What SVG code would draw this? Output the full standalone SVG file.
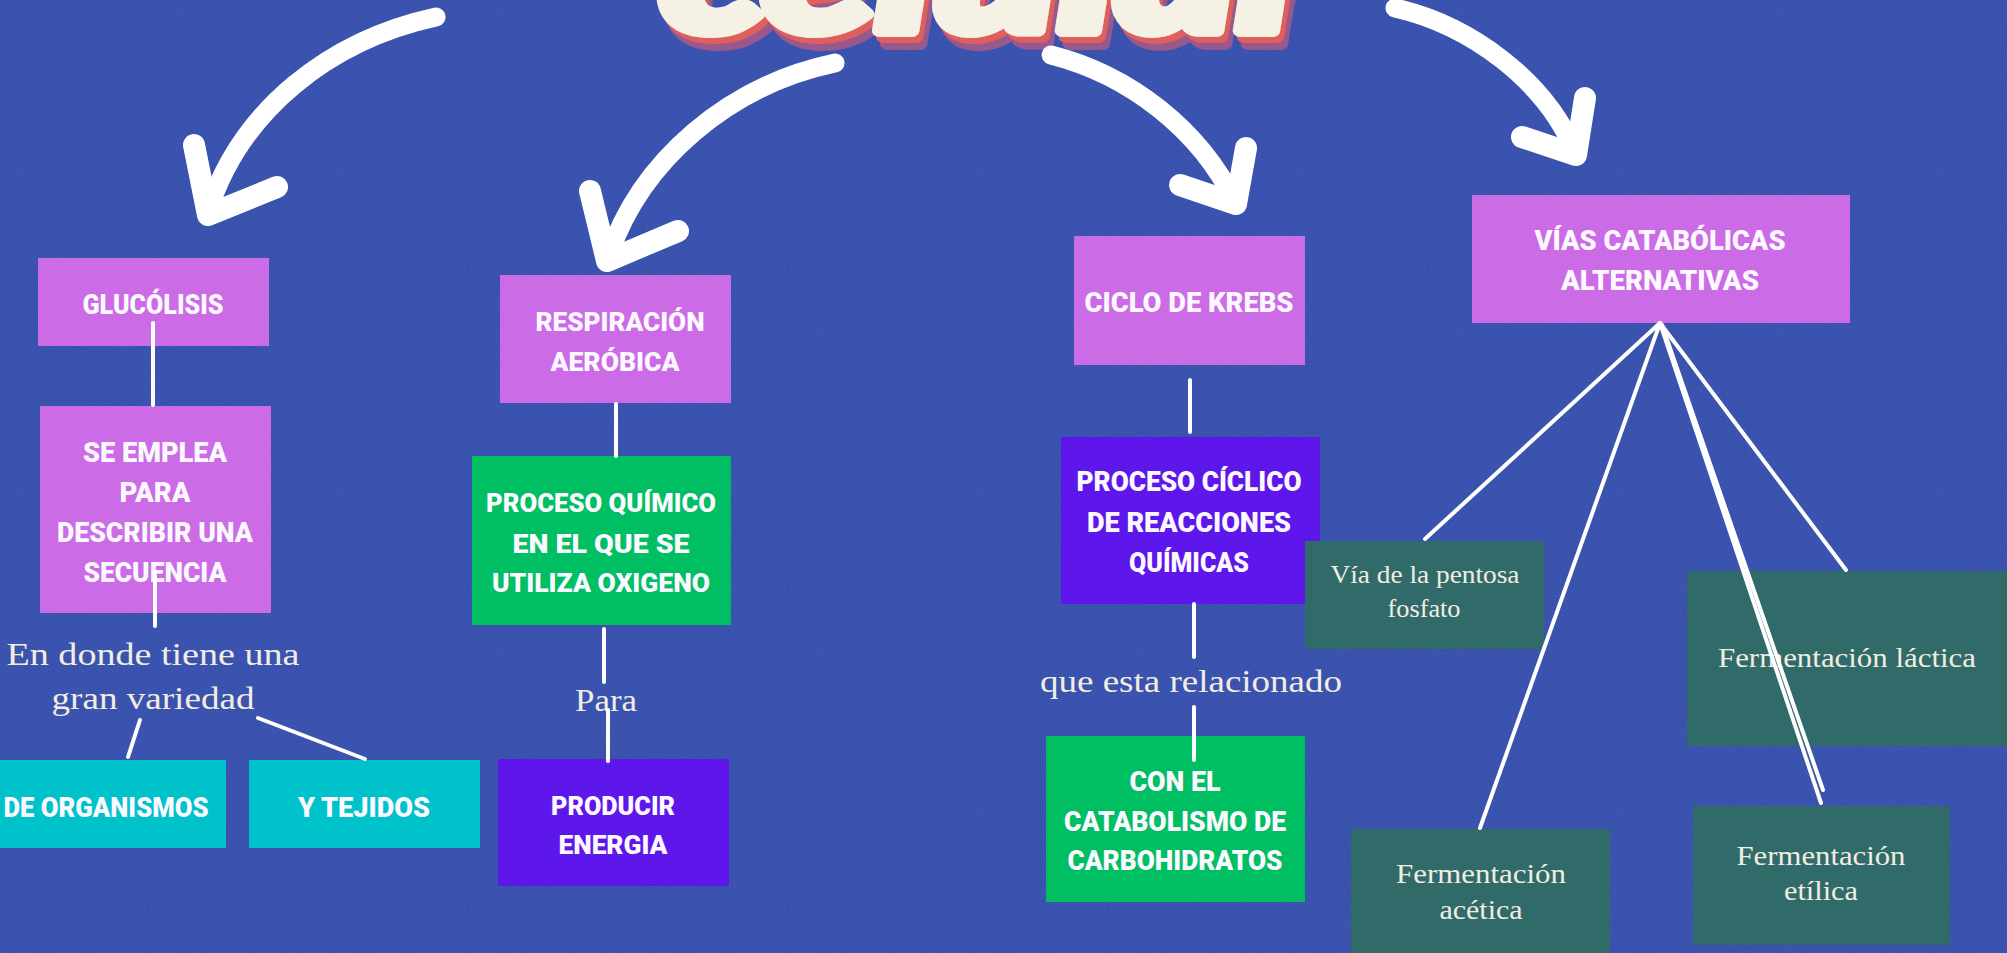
<svg xmlns="http://www.w3.org/2000/svg" width="2007" height="953" viewBox="0 0 2007 953">
<defs>
<style>
.bg{fill:#3750ad}
.pink{fill:#cb6ce6}
.green{fill:#00bf63}
.violet{fill:#5e17eb}
.cyan{fill:#00c2cb}
.teal{fill:#316b69}
.disp{font-family:Roboto,"Liberation Sans",sans-serif;font-weight:900;fill:#fbf8ff;text-anchor:middle}
.serif{font-family:"Liberation Serif","DejaVu Serif",serif;fill:#f1ede2;text-anchor:middle}
.line{stroke:#ffffff;stroke-width:4;stroke-linecap:round;fill:none}
.arrow{stroke:#ffffff;stroke-width:19;stroke-linecap:round;stroke-linejoin:round;fill:none}
.head{stroke:#ffffff;stroke-width:22;stroke-linecap:round;stroke-linejoin:round;fill:none}
.title{font-family:Lato,"DejaVu Sans",sans-serif;font-weight:900;font-style:italic;font-size:175px;fill:#f5f1e4;stroke:#f5f1e4;stroke-width:12;stroke-linejoin:round}
</style>
<filter id="grain" x="0" y="0" width="100%" height="100%">
<feTurbulence type="fractalNoise" baseFrequency="0.8" numOctaves="2" seed="4"/>
<feColorMatrix type="matrix" values="0 0 0 0 1  0 0 0 0 1  0 0 0 0 1  0.18 0 0 0 -0.06"/>
</filter>
<filter id="shadow3d" x="-5%" y="-20%" width="110%" height="140%">
<feFlood flood-color="#a2598a" flood-opacity="0.9" result="c2"/>
<feComposite in="c2" in2="SourceAlpha" operator="in" result="s2"/>
<feOffset in="s2" dx="8" dy="13" result="o2"/>
<feFlood flood-color="#df5f5c" result="c1"/>
<feComposite in="c1" in2="SourceAlpha" operator="in" result="s1"/>
<feOffset in="s1" dx="4" dy="6" result="o1"/>
<feMerge><feMergeNode in="o2"/><feMergeNode in="o1"/><feMergeNode in="SourceGraphic"/></feMerge>
</filter>
</defs>
<rect class="bg" x="0" y="0" width="2007" height="953"/>
<rect x="0" y="0" width="2007" height="953" filter="url(#grain)" opacity="0.6"/>

<g id="title" filter="url(#shadow3d)">
<text class="title" x="660" y="31" textLength="660" lengthAdjust="spacingAndGlyphs">celular</text>
</g>

<g id="arrows">
<path class="arrow" d="M436,17 C330,40 240,110 208,212"/>
<path class="head" d="M194,145 L208,215 L277,187"/>
<path class="arrow" d="M835,63 C730,85 640,160 608,258"/>
<path class="head" d="M590,191 L607,261 L678,231"/>
<path class="arrow" d="M1051,55 C1130,75 1200,130 1235,202"/>
<path class="head" d="M1246,148 L1236,204 L1180,185"/>
<path class="arrow" d="M1395,8 C1470,25 1545,80 1575,152"/>
<path class="head" d="M1585,98 L1576,155 L1522,137"/>
</g>

<g id="glucolisis">
<rect class="pink" x="38" y="258" width="231" height="88"/>
<text class="disp" x="153" y="314" font-size="27" textLength="141" lengthAdjust="spacingAndGlyphs">GLUCÓLISIS</text>
</g>
<g id="se-emplea">
<rect class="pink" x="40" y="406" width="231" height="207"/>
<text class="disp" x="155" y="462" font-size="27" textLength="144" lengthAdjust="spacingAndGlyphs">SE EMPLEA</text>
<text class="disp" x="155" y="502" font-size="27" textLength="71" lengthAdjust="spacingAndGlyphs">PARA</text>
<text class="disp" x="155" y="542" font-size="27" textLength="196" lengthAdjust="spacingAndGlyphs">DESCRIBIR UNA</text>
<text class="disp" x="155" y="582" font-size="27" textLength="143" lengthAdjust="spacingAndGlyphs">SECUENCIA</text>
</g>
<g id="en-donde">
<text class="serif" x="153" y="665" font-size="32" textLength="293" lengthAdjust="spacingAndGlyphs">En donde tiene una</text>
<text class="serif" x="153" y="709" font-size="32" textLength="203" lengthAdjust="spacingAndGlyphs">gran variedad</text>
</g>
<g id="de-organismos">
<rect class="cyan" x="-5" y="760" width="231" height="88"/>
<text class="disp" x="106" y="817" font-size="27" textLength="205" lengthAdjust="spacingAndGlyphs">DE ORGANISMOS</text>
</g>
<g id="y-tejidos">
<rect class="cyan" x="249" y="760" width="231" height="88"/>
<text class="disp" x="364" y="817" font-size="27" textLength="132" lengthAdjust="spacingAndGlyphs">Y TEJIDOS</text>
</g>

<g id="respiracion">
<rect class="pink" x="500" y="275" width="231" height="128"/>
<text class="disp" x="620" y="331" font-size="26" textLength="169" lengthAdjust="spacingAndGlyphs">RESPIRACIÓN</text>
<text class="disp" x="615" y="371" font-size="26" textLength="129" lengthAdjust="spacingAndGlyphs">AERÓBICA</text>
</g>
<g id="proceso-quimico">
<rect class="green" x="472" y="456" width="259" height="169"/>
<text class="disp" x="601" y="512" font-size="26" textLength="230" lengthAdjust="spacingAndGlyphs">PROCESO QUÍMICO</text>
<text class="disp" x="601" y="553" font-size="26" textLength="177" lengthAdjust="spacingAndGlyphs">EN EL QUE SE</text>
<text class="disp" x="601" y="592" font-size="26" textLength="218" lengthAdjust="spacingAndGlyphs">UTILIZA OXIGENO</text>
</g>
<g id="para">
<text class="serif" x="606" y="711" font-size="32" textLength="62" lengthAdjust="spacingAndGlyphs">Para</text>
</g>
<g id="producir">
<rect class="violet" x="498" y="759" width="231" height="127"/>
<text class="disp" x="613" y="815" font-size="26" textLength="124" lengthAdjust="spacingAndGlyphs">PRODUCIR</text>
<text class="disp" x="613" y="854" font-size="26" textLength="109" lengthAdjust="spacingAndGlyphs">ENERGIA</text>
</g>

<g id="krebs">
<rect class="pink" x="1074" y="236" width="231" height="129"/>
<text class="disp" x="1189" y="312" font-size="27" textLength="209" lengthAdjust="spacingAndGlyphs">CICLO DE KREBS</text>
</g>
<g id="proceso-ciclico">
<rect class="violet" x="1061" y="437" width="259" height="167"/>
<text class="disp" x="1189" y="491" font-size="27" textLength="225" lengthAdjust="spacingAndGlyphs">PROCESO CÍCLICO</text>
<text class="disp" x="1189" y="532" font-size="27" textLength="204" lengthAdjust="spacingAndGlyphs">DE REACCIONES</text>
<text class="disp" x="1189" y="572" font-size="27" textLength="120" lengthAdjust="spacingAndGlyphs">QUÍMICAS</text>
</g>
<g id="relacionado">
<text class="serif" x="1191" y="692" font-size="32" textLength="302" lengthAdjust="spacingAndGlyphs">que esta relacionado</text>
</g>
<g id="carbohidratos">
<rect class="green" x="1046" y="736" width="259" height="166"/>
<text class="disp" x="1175" y="791" font-size="27" textLength="91" lengthAdjust="spacingAndGlyphs">CON EL</text>
<text class="disp" x="1175" y="831" font-size="27" textLength="222" lengthAdjust="spacingAndGlyphs">CATABOLISMO DE</text>
<text class="disp" x="1175" y="870" font-size="27" textLength="215" lengthAdjust="spacingAndGlyphs">CARBOHIDRATOS</text>
</g>

<g id="vias">
<rect class="pink" x="1472" y="195" width="378" height="128"/>
<text class="disp" x="1660" y="250" font-size="28" textLength="251" lengthAdjust="spacingAndGlyphs">VÍAS CATABÓLICAS</text>
<text class="disp" x="1660" y="290" font-size="28" textLength="198" lengthAdjust="spacingAndGlyphs">ALTERNATIVAS</text>
</g>
<g id="pentosa">
<rect class="teal" x="1305" y="541" width="239" height="108"/>
<text class="serif" x="1425" y="583" font-size="25" textLength="189" lengthAdjust="spacingAndGlyphs">Vía de la pentosa</text>
<text class="serif" x="1424" y="617" font-size="25" textLength="73" lengthAdjust="spacingAndGlyphs">fosfato</text>
</g>
<g id="acetica">
<rect class="teal" x="1351" y="829" width="259" height="130"/>
<text class="serif" x="1481" y="883" font-size="28" textLength="170" lengthAdjust="spacingAndGlyphs">Fermentación</text>
<text class="serif" x="1481" y="919" font-size="28" textLength="83" lengthAdjust="spacingAndGlyphs">acética</text>
</g>
<g id="lactica">
<rect class="teal" x="1687" y="571" width="330" height="175"/>
<text class="serif" x="1847" y="667" font-size="28" textLength="258" lengthAdjust="spacingAndGlyphs">Fermentación láctica</text>
</g>
<g id="etilica">
<rect class="teal" x="1693" y="806" width="257" height="139"/>
<text class="serif" x="1821" y="865" font-size="28" textLength="169" lengthAdjust="spacingAndGlyphs">Fermentación</text>
<text class="serif" x="1821" y="900" font-size="28" textLength="74" lengthAdjust="spacingAndGlyphs">etílica</text>
</g>

<g id="connectors">
<line class="line" x1="153" y1="323" x2="153" y2="405"/>
<line class="line" x1="155" y1="575" x2="155" y2="626"/>
<line class="line" x1="140" y1="720" x2="128" y2="757"/>
<line class="line" x1="258" y1="718" x2="365" y2="759"/>
<line class="line" x1="616" y1="404" x2="616" y2="456"/>
<line class="line" x1="604" y1="629" x2="604" y2="682"/>
<line class="line" x1="608" y1="710" x2="608" y2="761"/>
<line class="line" x1="1190" y1="380" x2="1190" y2="432"/>
<line class="line" x1="1194" y1="604" x2="1194" y2="657"/>
<line class="line" x1="1194" y1="707" x2="1194" y2="760"/>
<line class="line" x1="1660" y1="323" x2="1425" y2="539"/>
<line class="line" x1="1660" y1="323" x2="1480" y2="828"/>
<line class="line" x1="1660" y1="323" x2="1821" y2="803"/>
<line class="line" x1="1662" y1="325" x2="1823" y2="790"/>
<line class="line" x1="1660" y1="323" x2="1846" y2="570"/>
</g>
</svg>
